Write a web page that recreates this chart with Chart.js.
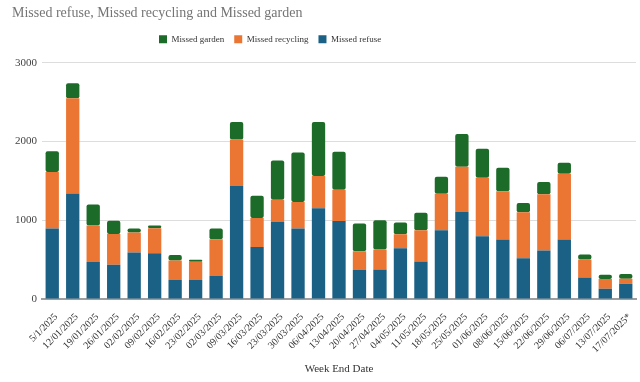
<!DOCTYPE html>
<html>
<head>
<meta charset="utf-8">
<script src="https://cdn.jsdelivr.net/npm/chart.js@4/dist/chart.umd.min.js"></script>
<style>
  html, body { margin: 0; padding: 0; background: #ffffff; }
  #wrap { width: 640px; height: 382px; position: relative; }
</style>
</head>
<body>
<div id="wrap"><canvas id="c" width="640" height="382"></canvas></div>
<script>
const weekLabels = ["5/1/2025","12/01/2025","19/01/2025","26/01/2025","02/02/2025","09/02/2025","16/02/2025","23/02/2025","02/03/2025","09/03/2025","16/03/2025","23/03/2025","30/03/2025","06/04/2025","13/04/2025","20/04/2025","27/04/2025","04/05/2025","11/05/2025","18/05/2025","25/05/2025","01/06/2025","08/06/2025","15/06/2025","22/06/2025","29/06/2025","06/07/2025","13/07/2025","17/07/2025*"];
const missedRefuse    = [895,1340,470,435,590,582,240,240,291,1435,662,979,895,1152,991,367,376,646,477,873,1105,797,756,519,616,756,274,131,194];
const missedRecycling = [717,1210,465,390,255,317,250,233,468,590,367,283,337,409,398,241,253,177,396,465,575,743,611,582,713,835,228,122,63];
const missedGarden    = [265,190,265,170,50,35,70,25,136,224,283,497,629,688,480,350,371,148,224,215,417,367,300,118,156,139,64,55,59];
const yTicks = [0,1000,2000,3000];

const FONT = "'Liberation Serif', 'Times New Roman', serif";

const layoutTweak = {
  id: 'layoutTweak',
  beforeLayout(chart) {
    const lg = chart.legend;
    if (lg && !lg._patched) {
      const f = lg.fit.bind(lg);
      lg.fit = function () { f(); this.height += 9; };
      lg._patched = true;
    }
  },
  afterLayout(chart) {
    const lg = chart.legend;
    if (lg) { lg.left = 149; }
  }
};

new Chart(document.getElementById('c'), {
  type: 'bar',
  data: {
    labels: weekLabels,
    datasets: [
      { label: 'Missed refuse', data: missedRefuse, backgroundColor: '#1a6185', borderRadius: 2, borderSkipped: false },
      { label: 'Missed recycling', data: missedRecycling, backgroundColor: '#eb7634', borderRadius: 2, borderSkipped: false },
      { label: 'Missed garden', data: missedGarden, backgroundColor: '#1d6b28', borderRadius: 2, borderSkipped: false }
    ]
  },
  options: {
    responsive: false,
    animation: false,
    devicePixelRatio: 1,
    layout: { padding: { left: 12, right: 4, top: 0, bottom: 0 } },
    datasets: { bar: { categoryPercentage: 1.0, barPercentage: 0.65 } },
    plugins: {
      tooltip: { enabled: false },
      title: {
        display: true,
        text: 'Missed refuse, Missed recycling and Missed garden',
        align: 'start',
        color: '#757575',
        font: { family: FONT, size: 14, weight: 'normal' },
        padding: { top: 5, bottom: 3 }
      },
      legend: {
        display: true,
        position: 'top',
        align: 'start',
        reverse: true,
        labels: {
          boxWidth: 8,
          boxHeight: 8,
          padding: 10,
          color: '#333333',
          font: { family: FONT, size: 9 }
        }
      }
    },
    scales: {
      x: {
        stacked: true,
        grid: { display: false },
        border: { display: true, color: '#9e9e9e', width: 2 },
        ticks: {
          autoSkip: false,
          maxRotation: 45,
          minRotation: 45,
          color: '#333333',
          padding: 4,
          labelOffset: 4,
          font: { family: FONT, size: 10 }
        },
        title: {
          display: true,
          text: 'Week End Date',
          color: '#333333',
          font: { family: FONT, size: 11 },
          padding: { top: 0, bottom: 6 }
        },
        afterFit(scale) { scale.height = 83; }
      },
      y: {
        stacked: true,
        min: 0,
        max: 3000,
        afterBuildTicks(scale) { scale.ticks = yTicks.map(v => ({ value: v })); },
        grid: { color: '#dddddd', drawTicks: false },
        border: { display: false },
        ticks: {
          color: '#444444',
          padding: 5,
          font: { family: FONT, size: 11 },
          callback: (v) => String(v)
        },
        afterFit(scale) { scale.width = 30; }
      }
    }
  },
  plugins: [layoutTweak]
});
</script>
</body>
</html>
